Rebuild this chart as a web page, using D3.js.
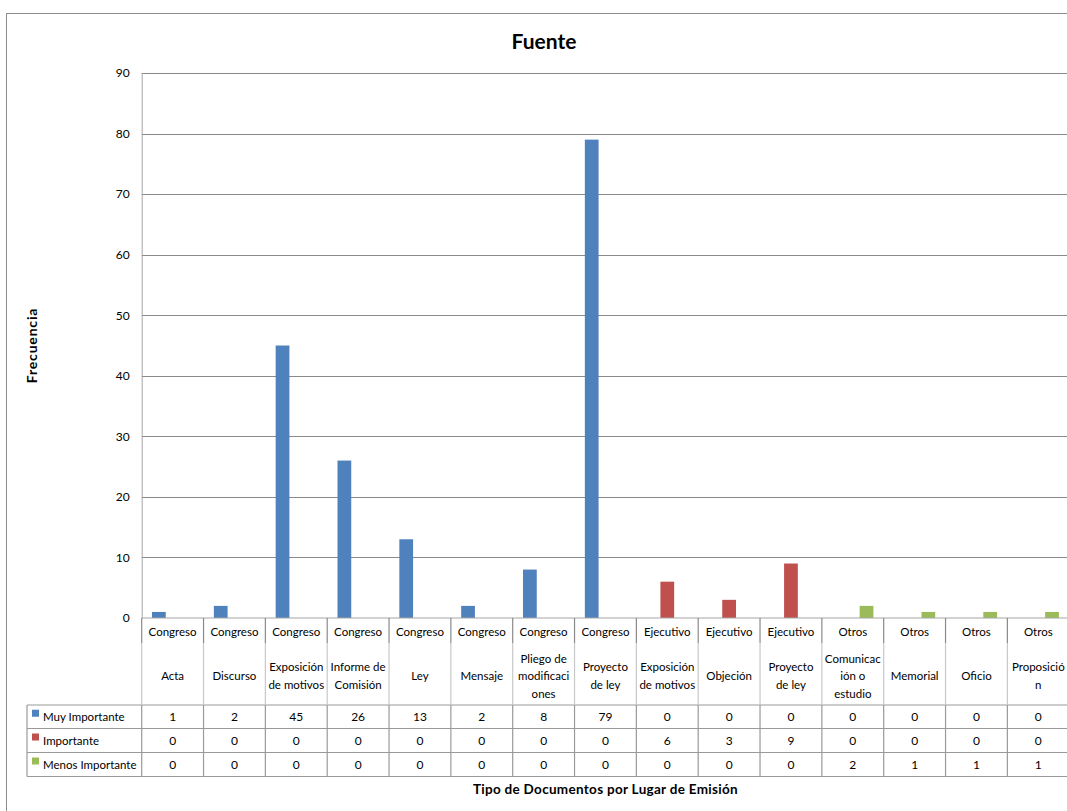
<!DOCTYPE html>
<html>
<head>
<meta charset="utf-8">
<script src="https://cdn.jsdelivr.net/npm/d3@7"></script>
<style>
  body { margin: 0; background: #fff; overflow: hidden; }
  text { font-family: Lato, "Open Sans", sans-serif; fill: #000; }
</style>
</head>
<body>
<div id="container"></div>
<script>
// data
const groups = ["Congreso","Congreso","Congreso","Congreso","Congreso","Congreso","Congreso","Congreso",
                "Ejecutivo","Ejecutivo","Ejecutivo","Otros","Otros","Otros","Otros"];
const types = [["Acta"],["Discurso"],["Exposición","de motivos"],["Informe de","Comisión"],["Ley"],["Mensaje"],
               ["Pliego de","modificaci","ones"],["Proyecto","de ley"],["Exposición","de motivos"],["Objeción"],
               ["Proyecto","de ley"],["Comunicac","ión o","estudio"],["Memorial"],["Oficio"],["Proposició","n"]];
const seriesNames = ["Muy Importante","Importante","Menos Importante"];
const muyImportante   = [1,2,45,26,13,2,8,79,0,0,0,0,0,0,0];
const importante      = [0,0,0,0,0,0,0,0,6,3,9,0,0,0,0];
const menosImportante = [0,0,0,0,0,0,0,0,0,0,0,2,1,1,1];
const colors = ["#4F81BD","#C0504D","#9BBB59"];
const yTicks = [0,10,20,30,40,50,60,70,80,90];

const values = [muyImportante, importante, menosImportante];
const cats = d3.range(groups.length);

const W = 1067, H = 811;
const pLeft = 141.7, pRight = 1069.2, pTop = 73, pBottom = 618;
const tableLeft = 27, rowTops = [705, 728.5, 752.5, 776.5];
const fs = '11.5px';

const svg = d3.select('#container').append('svg')
  .attr('width', W).attr('height', H);

// chart border
svg.append('rect')
  .attr('x', 6.5).attr('y', 13.5).attr('width', 1100).attr('height', 820)
  .attr('fill', 'none').attr('stroke', '#8c8c8c').attr('stroke-width', 1);

const x = d3.scaleBand().domain(cats).range([pLeft, pRight]).padding(0);
const xs = d3.scaleBand().domain(d3.range(3)).range([0, x.bandwidth()]).paddingInner(0).paddingOuter(0.75);
const y = d3.scaleLinear().domain([0, 90]).range([pBottom, pTop]);

// gridlines
svg.append('g').selectAll('line').data(yTicks.slice(1)).join('line')
  .attr('x1', pLeft).attr('x2', pRight)
  .attr('y1', d => Math.round(y(d)) + 0.5).attr('y2', d => Math.round(y(d)) + 0.5)
  .attr('stroke', '#8a8a8a');

// y axis
const yAxis = d3.axisLeft(y).tickValues(yTicks).tickSize(0).tickPadding(12);
const yg = svg.append('g').attr('transform', `translate(${pLeft},0)`).call(yAxis);
yg.select('.domain').attr('stroke', '#a6a6a6');
yg.selectAll('text').style('font-size', '12px').style('font-family', 'Lato, sans-serif');

// bars
values.forEach((vals, si) => {
  svg.append('g').selectAll('rect').data(cats).join('rect')
    .attr('x', d => x(d) + xs(si))
    .attr('width', xs.bandwidth())
    .attr('y', d => y(vals[d]))
    .attr('height', d => y(0) - y(vals[d]))
    .attr('fill', colors[si]);
});

// data table
const grid = svg.append('g').attr('stroke', '#9a9a9a').attr('stroke-width', 1.2);
grid.append('line').attr('x1', pLeft).attr('x2', pRight).attr('y1', pBottom).attr('y2', pBottom).attr('stroke', '#a6a6a6');
rowTops.forEach(ry => {
  grid.append('line').attr('x1', tableLeft).attr('x2', pRight).attr('y1', ry).attr('y2', ry);
});
grid.append('line').attr('x1', tableLeft).attr('x2', tableLeft).attr('y1', rowTops[0]).attr('y2', rowTops[3]);
cats.concat([cats.length]).forEach(i => {
  const xx = i < cats.length ? x(i) : pRight;
  grid.append('line').attr('x1', xx).attr('x2', xx).attr('y1', pBottom).attr('y2', 643).attr('stroke', '#8a8a8a');
  grid.append('line').attr('x1', xx).attr('x2', xx).attr('y1', 643).attr('y2', rowTops[0]).attr('stroke', '#c8c8c8');
  grid.append('line').attr('x1', xx).attr('x2', xx).attr('y1', rowTops[0]).attr('y2', rowTops[3]);
});

// category labels
const lab = svg.append('g').style('font-size', fs).attr('text-anchor', 'middle');
cats.forEach(i => {
  const cx = x(i) + x.bandwidth() / 2;
  lab.append('text').attr('x', cx).attr('y', 636).text(groups[i]);
  const lines = types[i];
  const lh = 17.5;
  const y0 = 680 - (lines.length - 1) * lh / 2;
  lines.forEach((t, k) => {
    lab.append('text').attr('x', cx).attr('y', y0 + k * lh).text(t);
  });
});

// value rows
seriesNames.forEach((name, si) => {
  const cy = (rowTops[si] + rowTops[si + 1]) / 2 + 4;
  svg.append('rect').attr('x', 32).attr('y', cy - 11).attr('width', 7).attr('height', 7).attr('fill', colors[si]);
  svg.append('text').attr('x', 43).attr('y', cy).style('font-size', fs).text(name);
  svg.append('g').selectAll('text').data(cats).join('text')
    .attr('x', d => x(d) + x.bandwidth() / 2).attr('y', cy)
    .attr('text-anchor', 'middle').style('font-size', '12px')
    .text(d => values[si][d]);
});

// titles
svg.append('text').attr('x', 544).attr('y', 49).attr('text-anchor', 'middle')
  .style('font-size', '21px').style('font-weight', 'bold').text('Fuente');
svg.append('text').attr('transform', `translate(37,${(pTop + pBottom) / 2}) rotate(-90)`)
  .attr('text-anchor', 'middle').style('font-size', '14px').style('font-weight', 'bold')
  .style('letter-spacing', '0.8px').text('Frecuencia');
svg.append('text').attr('x', (pLeft + pRight) / 2).attr('y', 794).attr('text-anchor', 'middle')
  .style('font-size', '13.5px').style('font-weight', 'bold').style('letter-spacing', '0.3px')
  .text('Tipo de Documentos por Lugar de Emisión');
</script>
</body>
</html>
